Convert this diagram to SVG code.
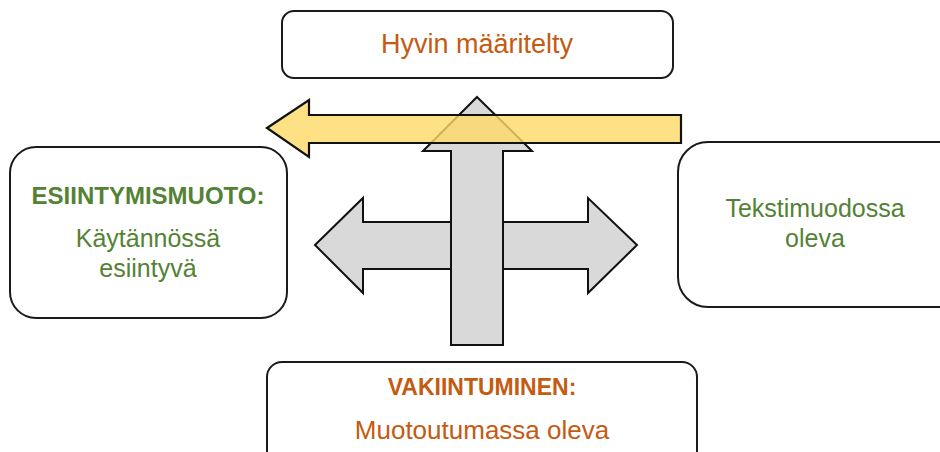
<svg xmlns="http://www.w3.org/2000/svg" width="940" height="452" viewBox="0 0 940 452">
<style>
.box{fill:#fff;stroke:#1a1a1a;stroke-width:2}
.t{font-family:"Liberation Sans",Arial,sans-serif;text-anchor:middle}
.or{fill:#C55A11}
.gr{fill:#548235}
.b{font-weight:bold}
.gray{fill:#D9D9D9;stroke:#111;stroke-width:2;stroke-linejoin:miter}
.yel{fill:#FFD966;fill-opacity:0.8;stroke:#111;stroke-width:2.2}
</style>
<rect width="940" height="452" fill="#fff"/>
<g id="node-top">
<rect class="box" x="282" y="11" width="391" height="67" rx="12"/>
<text class="t or" x="477" y="53" font-size="27">Hyvin määritelty</text>
</g>
<g id="node-left">
<rect class="box" x="10" y="147" width="277" height="171" rx="26"/>
<text class="t gr b" x="148" y="204" font-size="24">ESIINTYMISMUOTO:</text>
<text class="t gr" x="148" y="247" font-size="25">Käytännössä</text>
<text class="t gr" x="148" y="277" font-size="25">esiintyvä</text>
</g>
<g id="node-right">
<rect class="box" x="678" y="142" width="290" height="165" rx="30"/>
<text class="t gr" x="815" y="217" font-size="25">Tekstimuodossa</text>
<text class="t gr" x="815" y="247" font-size="25">oleva</text>
</g>
<g id="node-bottom">
<rect class="box" x="267" y="362" width="430" height="110" rx="15"/>
<text class="t or b" x="482" y="395" font-size="23">VAKIINTUMINEN:</text>
<text class="t or" x="482" y="439" font-size="26">Muotoutumassa oleva</text>
</g>
<g id="connectors">
<polygon class="gray" points="315,245 363,198 363,222 588,222 588,198 637,245 588,293 588,269 363,269 363,293"/>
<polygon class="gray" points="477,97 532,151 503,151 503,345 451,345 451,151 423,151"/>
<polygon class="yel" points="267,128 309,100 309,115 681,115 681,143 309,143 309,157"/>
</g>
</svg>
